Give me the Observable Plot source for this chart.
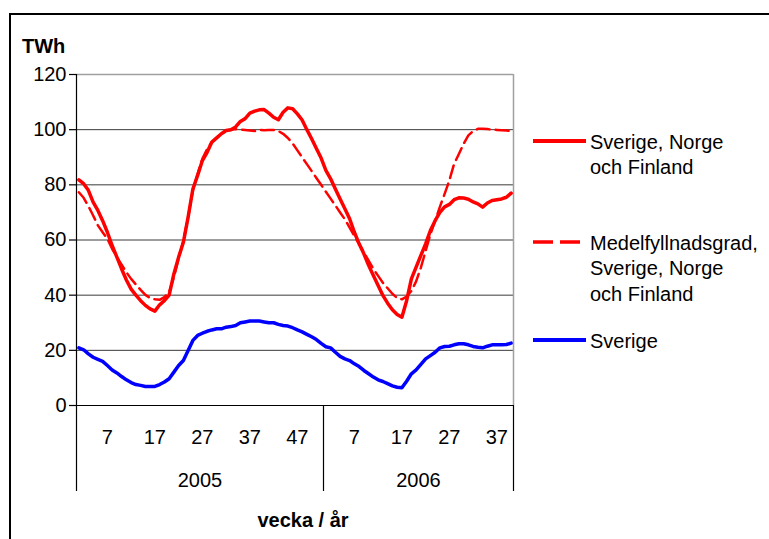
<!DOCTYPE html>
<html><head><meta charset="utf-8">
<script src="https://cdn.jsdelivr.net/npm/d3@7"></script>
<script src="https://cdn.jsdelivr.net/npm/@observablehq/plot@0.6"></script>
<style>
html,body{margin:0;padding:0;background:#fff;overflow:hidden}
#wrap{position:relative;width:769px;height:539px;font-family:"Liberation Sans",Arial,sans-serif;color:#000}
#frame{position:absolute;left:9px;top:13px;width:900px;height:700px;border:2.5px solid #000;box-sizing:border-box}
#chart{position:absolute;left:0;top:0}
#overlay{position:absolute;left:0;top:0;font-family:"Liberation Sans",Arial,sans-serif;font-size:20px}
</style></head>
<body><div id="wrap"><div id="frame"></div><div id="chart"></div><svg id="overlay" width="769" height="539"></svg></div>
<script>
// ---- data ----
const years = [2005, 2006];
const weeksPerYear = [52, 40];
const weekTickLabels2005 = [7, 17, 27, 37, 47];
const weekTickLabels2006 = [7, 17, 27, 37];
const yTicks = [0, 20, 40, 60, 80, 100, 120];

const seriesNames = ["Sverige, Norge och Finland", "Medelfyllnadsgrad, Sverige, Norge och Finland", "Sverige"];

const snf2005 = [81.8,80.4,78,73.7,70.7,67,62.8,58,53.8,49.5,45.5,42.2,40,38,36.3,35,34.2,36.5,38,40,47.7,53.8,59.2,68.3,78.5,83.4,88.8,91.8,95.5,97,98.5,99.7,100,101,103,104,106,106.7,107.2,107.3,106,104.5,103.6,106.3,107.9,107.6,105.7,103.5,100,96.7,93.2,89.7];
const snf2006 = [85.2,82.2,78.5,74.9,71.3,67.7,62.8,58.6,55,50.8,47.1,43.5,39.9,37.1,34.7,33,32,38,45.9,50.2,54.4,58.6,63.4,67,70,72,72.9,74.6,75.3,75.2,74.8,73.8,73.1,71.9,73.4,74.3,74.6,74.9,75.5,77];

const medel2005 = [77.3,75.3,72.3,68.9,65.3,62.8,60.4,56.8,53.8,51.1,48.3,45.9,43.9,41.9,40.1,39,38.5,38.3,39.3,41.1,46.5,53.2,59.8,68.3,78,84,89.4,93,95.5,97,98.5,99.7,100,100.2,100,99.9,99.7,99.5,99.9,99.8,99.9,99.9,99.5,98.5,97,95,92.5,90,87.5,85,82.5,80];
const medel2006 = [77.5,75,72.5,70,67.5,64.5,61.5,58.5,55.5,52.5,49.5,47,44.5,42.5,40.5,39,38.5,39.5,41.5,45,50,56,62,67,72,76.7,81.6,87.6,91.2,94.9,97.9,99.5,100.3,100.3,100.2,100,99.9,99.8,99.7,99.5];

const sverige2005 = [20.9,20.2,18.7,17.5,16.7,16,14.5,12.9,11.8,10.5,9.3,8.3,7.6,7.3,6.9,6.9,6.9,7.6,8.5,9.7,12.1,14.5,16.3,19.9,23.6,25.4,26.2,26.9,27.4,27.8,27.8,28.4,28.6,29,30,30.3,30.6,30.6,30.6,30.3,30,30,29.4,29,28.8,28.2,27.4,26.7,25.8,24.9,23.9,22.5];
const sverige2006 = [21.3,20.9,19.3,17.8,16.9,16.3,15.1,14.1,12.7,11.5,10.3,9.3,8.7,7.9,7.1,6.6,6.4,8.8,11.5,12.9,14.9,16.9,18.1,19.3,20.9,21.4,21.5,22,22.4,22.4,22,21.4,21.1,20.9,21.5,22,22,22,22.1,22.6];

// ---- build table ----
const offsets = [0, weeksPerYear[0]];
const total = weeksPerYear[0] + weeksPerYear[1];
const seriesByYear = [
  [snf2005, snf2006],
  [medel2005, medel2006],
  [sverige2005, sverige2006]
];
const rows = [];
seriesByYear.forEach((pair, s) => {
  pair.forEach((vals, yi) => {
    vals.forEach((v, w) => rows.push({series: seriesNames[s], x: offsets[yi] + w + 0.5, value: v}));
  });
});
const tickLabelMap = new Map();
weekTickLabels2005.forEach(w => tickLabelMap.set(offsets[0] + w - 0.5, String(w)));
weekTickLabels2006.forEach(w => tickLabelMap.set(offsets[1] + w - 0.5, String(w)));
const yearMap = new Map();
years.forEach((y, i) => yearMap.set(offsets[i] + weeksPerYear[i] / 2, String(y)));
const boundaries = [0, offsets[1], total];

const font = '"Liberation Sans", Arial, sans-serif';
const chart = Plot.plot({
  width: 769, height: 539,
  marginLeft: 76, marginRight: 256, marginTop: 74, marginBottom: 134,
  style: {fontFamily: font, fontSize: "20px", background: "transparent", color: "#000", overflow: "visible"},
  x: {domain: [0, total]},
  y: {domain: [0, 120]},
  marks: [
    Plot.ruleY(yTicks.filter(d => d > 0 && d < 120), {stroke: "#3a3a3a", strokeWidth: 1}),
    Plot.ruleY([120], {stroke: "#a0a0a0", strokeWidth: 1.5}),
    Plot.ruleX([total], {stroke: "#a0a0a0", strokeWidth: 1.5}),
    Plot.ruleY([0], {stroke: "#000", strokeWidth: 1.2}),
    Plot.ruleX([0], {stroke: "#000", strokeWidth: 1.2}),
    Plot.axisY(yTicks, {tickSize: 7, tickPadding: 3, fontSize: 20, stroke: "#000", strokeWidth: 1.2, label: null}),
    Plot.axisX(boundaries, {tickSize: 86, tickFormat: () => "", stroke: "#000", strokeWidth: 1.2, label: null}),
    Plot.axisX([...tickLabelMap.keys()], {tickSize: 0, tickPadding: 24, fontSize: 20, tickFormat: d => tickLabelMap.get(d), label: null}),
    Plot.axisX([...yearMap.keys()], {tickSize: 0, tickPadding: 67, fontSize: 20, tickFormat: d => yearMap.get(d), label: null}),
    Plot.line(rows.filter(r => r.series === seriesNames[0]), {x: "x", y: "value", stroke: "#ff0000", strokeWidth: 3.5}),
    Plot.line(rows.filter(r => r.series === seriesNames[1]), {x: "x", y: "value", stroke: "#ff0000", strokeWidth: 2.5, strokeDasharray: "13,6"}),
    Plot.line(rows.filter(r => r.series === seriesNames[2]), {x: "x", y: "value", stroke: "#0000ff", strokeWidth: 3.5})
  ]
});
document.getElementById("chart").appendChild(chart);

// ---- overlay texts & legend ----
const ov = d3.select("#overlay");
ov.append("text").attr("x", 22).attr("y", 53).attr("font-weight", "bold").text("TWh");
ov.append("text").attr("x", 303).attr("y", 527).attr("text-anchor", "middle").attr("font-weight", "bold").text("vecka / år");

const legendItems = [
  {lines: ["Sverige, Norge", "och Finland"], y: 141, stroke: "#ff0000", dash: null, width: 4},
  {lines: ["Medelfyllnadsgrad,", "Sverige, Norge", "och Finland"], y: 242, stroke: "#ff0000", dash: "20,7", width: 3.5},
  {lines: ["Sverige"], y: 340, stroke: "#0000ff", dash: null, width: 4}
];
legendItems.forEach(it => {
  const l = ov.append("line").attr("x1", 533).attr("x2", 586).attr("y1", it.y).attr("y2", it.y)
    .attr("stroke", it.stroke).attr("stroke-width", it.width);
  if (it.dash) l.attr("stroke-dasharray", it.dash);
  it.lines.forEach((t, i) => {
    ov.append("text").attr("x", 590).attr("y", it.y + 7.5 + i * 25.5).text(t);
  });
});
</script>
</body></html>
